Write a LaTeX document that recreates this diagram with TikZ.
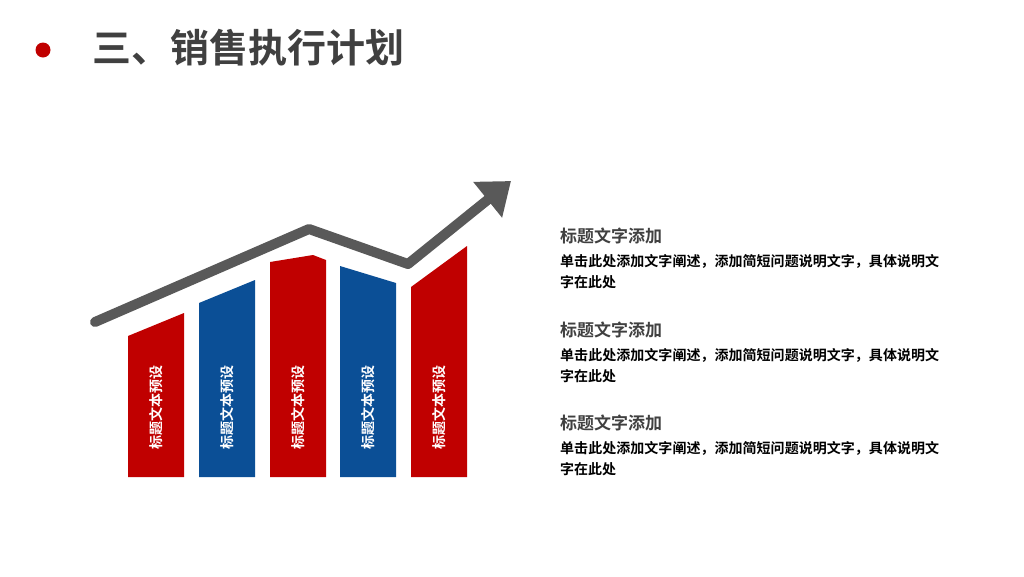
\documentclass[tikz,border=0pt]{standalone}
\usepackage{fontspec}
\newfontfamily\cjk{Noto Sans CJK SC}
\newfontfamily\cjkb{Noto Sans CJK SC Bold}
\XeTeXlinebreaklocale "zh"
\XeTeXlinebreakskip=0pt plus 1pt
\usetikzlibrary{arrows.meta}
\definecolor{barred}{HTML}{C00000}
\definecolor{barblue}{HTML}{0B4F96}
\definecolor{darkgray}{HTML}{404040}
\definecolor{arrowgray}{HTML}{595959}
\begin{document}
\begin{tikzpicture}[
        x=1pt,y=-1pt,
        barlabel/.style={rotate=90,text=white,font=\cjkb\fontsize{14}{14}\selectfont},
        headstyle/.style={anchor=west,inner sep=0pt,text=darkgray,font=\cjkb\fontsize{17}{17}\selectfont},
        bodystyle/.style={anchor=north west,inner sep=0pt,text=black,align=left,text width=380pt,
            font=\cjkb\fontsize{14}{21}\selectfont},
        ]
        \useasboundingbox (0,0) rectangle (1024,576);

        \fill[barred] (43,50) circle (7.5);
        \node[anchor=west,inner sep=0pt,text=darkgray,font=\cjkb\fontsize{39}{39}\selectfont] (title) at (92,48) {三、销售执行计划};

        % bars
        \fill[barred]  (128,477) -- (128,336) -- (184,313) -- (184,477) -- cycle;
        \fill[barblue] (199,477) -- (199,303) -- (255,280) -- (255,477) -- cycle;
        \fill[barred]  (270,477) -- (270,262) -- (313,255) -- (326,260) -- (326,477) -- cycle;
        \fill[barblue] (340,477) -- (340,266) -- (396,283) -- (396,477) -- cycle;
        \fill[barred]  (411,477) -- (411,287) -- (467,246) -- (467,477) -- cycle;
        \foreach \x in {156,227,298,368,439}
            \node[barlabel] (lab\x) at (\x,407) {标题文本预设};

        % trend arrow
        \coordinate (p0) at (95,322);
        \coordinate (p1) at (309,229);
        \coordinate (p2) at (408,264);
        \coordinate (p3) at (511,181);
        \draw[arrowgray,line width=10pt,line cap=round,line join=round,
            -{Triangle[width=44pt,length=30pt]}] (p0) -- (p1) -- (p2) -- (p3);

        % text blocks
        \foreach \y/\n in {236/a,330/b,423/c}{
            \node[headstyle] (head\n) at (560,\y) {标题文字添加};
            \node[bodystyle] (body\n) at (560,\y+18) {单击此处添加文字阐述，添加简短问题说明文字，具体说明文字在此处};
        }
    \end{tikzpicture}
\end{document}
